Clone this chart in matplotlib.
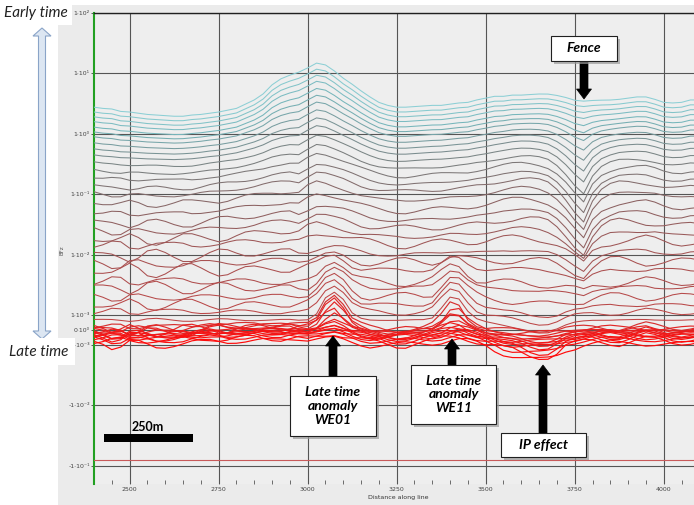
import numpy as np
import matplotlib
matplotlib.use("Agg")
import matplotlib.pyplot as plt
import matplotlib.transforms as mtransforms
from matplotlib.colors import LinearSegmentedColormap
from matplotlib.patches import Rectangle, Polygon
from matplotlib.ticker import MultipleLocator, NullLocator

W, H = 694, 505  # output size in pixels

# survey stations along the line (m), every 25 m
stations = np.arange(2400, 4101, 25)

# profile shapes, in decades (log10 units), one value per station
early_shape = [0.00, -0.02, -0.03, -0.07, -0.08, -0.10, -0.12, -0.13, -0.14, -0.15,
               -0.15, -0.13, -0.12, -0.10, -0.08, -0.05, -0.02, 0.05, 0.12, 0.22,
               0.37, 0.47, 0.53, 0.58, 0.65, 0.73, 0.70, 0.60, 0.48, 0.38,
               0.27, 0.17, 0.08, 0.03, 0.00, 0.00, 0.01, 0.02, 0.03, 0.03,
               0.05, 0.07, 0.08, 0.12, 0.15, 0.18, 0.18, 0.20, 0.20, 0.21,
               0.22, 0.22, 0.20, 0.17, 0.13, 0.12, 0.12, 0.12, 0.12, 0.13,
               0.15, 0.17, 0.17, 0.13, 0.08, 0.07, 0.08, 0.12, 0.12]
mid_shape = [0.00, -0.02, -0.03, -0.03, -0.03, -0.03, -0.03, -0.03, -0.03, -0.03,
             -0.02, -0.02, 0.00, 0.02, 0.03, 0.05, 0.07, 0.09, 0.11, 0.13,
             0.15, 0.16, 0.17, 0.15, 0.25, 0.32, 0.30, 0.26, 0.22, 0.17,
             0.12, 0.08, 0.05, 0.03, 0.02, 0.02, 0.03, 0.04, 0.05, 0.06,
             0.07, 0.08, 0.09, 0.11, 0.13, 0.16, 0.20, 0.23, 0.25, 0.26,
             0.26, 0.25, 0.22, 0.18, 0.15, 0.14, 0.14, 0.15, 0.16, 0.17,
             0.18, 0.18, 0.17, 0.14, 0.10, 0.08, 0.08, 0.10, 0.10]
wiggle_a = [0.00, 0.03, 0.06, 0.02, -0.08, -0.05, 0.04, 0.08, 0.06, 0.02,
            -0.03, -0.06, -0.04, 0.00, 0.04, 0.05, 0.03, 0.00, -0.02, -0.03,
            -0.02, 0.00, 0.02, 0.00, -0.02, -0.03, -0.02, 0.00, 0.02, 0.04,
            0.05, 0.03, 0.00, -0.03, -0.05, -0.04, -0.01, 0.02, 0.04, 0.03,
            0.00, -0.02, -0.03, -0.02, 0.00, 0.02, 0.03, 0.02, 0.00, -0.02,
            -0.03, -0.02, 0.00, 0.02, 0.03, 0.02, 0.00, -0.03, -0.05, -0.03,
            0.00, 0.04, 0.06, 0.03, 0.00, -0.03, -0.04, -0.02, 0.00]
wiggle_b = [0.05, 0.02, -0.03, -0.06, -0.04, 0.01, 0.05, 0.04, 0.00, -0.05,
            -0.08, -0.05, 0.00, 0.04, 0.06, 0.03, -0.02, -0.05, -0.04, 0.00,
            0.03, 0.05, 0.03, -0.02, -0.05, -0.03, 0.00, 0.02, 0.03, 0.01,
            -0.02, -0.04, -0.03, 0.00, 0.03, 0.05, 0.04, 0.01, -0.02, -0.04,
            -0.03, 0.00, 0.03, 0.04, 0.02, -0.01, -0.03, -0.04, -0.02, 0.01,
            0.03, 0.04, 0.02, -0.01, -0.03, -0.03, -0.01, 0.02, 0.04, 0.05,
            0.03, 0.00, -0.03, -0.04, -0.02, 0.01, 0.03, 0.04, 0.03]
# late time bundle centre, in units of 1e-3
bundle_centre = [-0.10, -0.15, -0.20, -0.15, -0.10, -0.10, -0.15, -0.20, -0.20, -0.15,
                 -0.10, -0.05, 0.00, 0.05, 0.00, -0.05, 0.00, 0.05, 0.10, 0.10,
                 0.05, 0.05, 0.10, 0.10, 0.05, 0.10, 0.15, 0.20, 0.10, 0.00,
                 -0.10, -0.20, -0.25, -0.30, -0.30, -0.25, -0.20, -0.15, -0.10, -0.05,
                 0.00, 0.05, 0.00, -0.10, -0.20, -0.25, -0.30, -0.30, -0.30, -0.30,
                 -0.30, -0.30, -0.25, -0.20, -0.20, -0.15, -0.10, -0.10, -0.15, -0.20,
                 -0.15, -0.10, -0.05, -0.10, -0.15, -0.20, -0.20, -0.15, -0.10]

# local features (station: relative strength), zero elsewhere
fence_dip = {3625: 0.03, 3650: 0.08, 3675: 0.15, 3700: 0.28, 3725: 0.48, 3750: 0.75,
             3775: 1.0, 3800: 0.45, 3825: 0.18, 3850: 0.06}
we01_peak = {3000: 0.04, 3025: 0.25, 3050: 0.75, 3075: 1.0, 3100: 0.65,
             3125: 0.22, 3150: 0.05}
we11_peak = {3350: 0.08, 3375: 0.45, 3400: 0.95, 3425: 0.85, 3450: 0.35, 3475: 0.08}
ip_low = {3475: 0.05, 3500: 0.15, 3525: 0.3, 3550: 0.45, 3575: 0.6, 3600: 0.75,
          3625: 0.9, 3650: 1.0, 3675: 0.95, 3700: 0.75, 3725: 0.4, 3750: 0.15, 3775: 0.03}

# decaying channels (early -> late), log10 level at the start of the line
log_level = [0.44, 0.36, 0.28, 0.20, 0.11, 0.03, -0.05, -0.15, -0.25, -0.35,
             -0.47, -0.60, -0.72, -0.86, -0.98, -1.13, -1.30, -1.46, -1.59, -1.73,
             -1.84, -2.01, -2.14, -2.26, -2.45, -2.55, -2.70, -2.83, -2.95, -3.18]
w_early = [1.0, 0.95, 0.9, 0.85, 0.78, 0.7, 0.62, 0.55, 0.47, 0.4,
           0.32, 0.25, 0.18, 0.12, 0.06] + [0.0] * 15
w_mid = [0.0, 0.05, 0.1, 0.15, 0.22, 0.3, 0.38, 0.45, 0.53, 0.6,
         0.68, 0.75, 0.82, 0.88, 0.94, 1.0, 0.95, 0.9, 0.8, 0.7,
         0.5, 0.35, 0.2, 0.1, 0.0, 0.0, 0.0, 0.0, 0.0, 0.0]
fence_depth = [0.02, 0.03, 0.05, 0.07, 0.10, 0.14, 0.19, 0.25, 0.32, 0.40,
               0.46, 0.52, 0.56, 0.58, 0.60, 0.60, 0.58, 0.55, 0.50, 0.44,
               0.38, 0.31, 0.24, 0.20, 0.16, 0.12, 0.08, 0.06, 0.04, 0.02]
wig_a_w = [0.0] * 10 + [0.1, -0.2, 0.3, 0.3, -0.4, -0.5, 0.5, 0.6, -0.7, -0.8,
                        0.9, 0.9, -1.0, -1.0, 0.9, 0.9, -0.8, -0.8, 0.7, 0.6]
wig_b_w = [0.0] * 10 + [0.1, 0.2, -0.3, 0.3, 0.4, -0.5, -0.5, 0.6, 0.7, -0.8,
                        -0.8, 0.9, 0.9, -1.0, -0.9, 0.9, 0.8, -0.8, -0.6, 0.5]
we01_amp = [0.0] * 19 + [0.5, 1.0, 1.5, 2.5, 4.2, 4.0, 3.2, 2.8, 2.4, 1.9, 1.7]
we11_amp = [0.0] * 19 + [0.4, 0.8, 1.2, 2.0, 3.6, 3.4, 2.8, 2.4, 2.0, 1.6, 1.4]
ip_amp = [0.0] * 24 + [0.2, 0.3, 0.5, 0.6, 0.7, 0.8]

# latest channels forming the red bundle around zero (units of 1e-3)
bundle_offset = [0.35, 0.25, 0.15, 0.10, 0.00, -0.05, -0.10, -0.15, -0.20, -0.25,
                 -0.30, -0.40, -0.50, -0.60, -0.75]
bundle_wig_a = [3, -2, 4, -3, 2, 4, -3, 2, -2, 3, -4, 3, -2, 2, -3]
bundle_wig_b = [-2, 3, 2, -3, 4, -2, 3, -3, 3, -2, 2, -3, 3, -4, 2]
bundle_we01 = [1.6, 1.4, 1.25, 1.05, 0.8, 0.6, 0.4, 0.3, 0.25, 0.2, 0.15, 0.15, 0.1, 0.1, 0.1]
bundle_we11 = [1.3, 1.1, 1.0, 0.85, 0.7, 0.5, 0.35, 0.25, 0.2, 0.15, 0.12, 0.1, 0.1, 0.08, 0.08]
bundle_ip = [0.1, 0.15, 0.2, 0.25, 0.3, 0.35, 0.4, 0.45, 0.5, 0.5, 0.55, 0.6, 0.6, 0.65, 0.7]

y_ticks = [1e2, 1e1, 1e0, 1e-1, 1e-2, 1e-3, 0, -1e-3, -1e-2, -1e-1]
y_labels = ['1·10²', '1·10¹', '1·10⁰', '1·10⁻¹', '1·10⁻²', '1·10⁻³', '0·10⁰',
            '-1·10⁻³', '-1·10⁻²', '-1·10⁻¹']
x_ticks = [2500, 2750, 3000, 3250, 3500, 3750, 4000]


def sparse(d):
    return np.array([d.get(s, 0.0) for s in stations])


early = np.array(early_shape)
mid = np.array(mid_shape)
wa = np.array(wiggle_a)
wb = np.array(wiggle_b)
fence = sparse(fence_dip)
g1 = sparse(we01_peak)
g2 = sparse(we11_peak)
ip = sparse(ip_low)
centre = np.array(bundle_centre)

n_up = len(log_level)
n_all = n_up + len(bundle_offset)
cmap = LinearSegmentedColormap.from_list('chan', [
    (0.0, '#8ccfd5'), (0.1, '#74b3b8'), (0.18, '#7a9496'), (0.26, '#7a7a7a'),
    (0.36, '#8a6262'), (0.5, '#a85050'), (0.66, '#c04444'), (0.69, '#e02828'),
    (1.0, '#ff0a0a')])

fig = plt.figure(figsize=(W / 100, H / 100), dpi=100)
fig.patch.set_facecolor('white')


def fx(x):
    return x / W


def fy(y):
    return 1 - y / H


# grey panel behind the plot
fig.add_artist(Rectangle((fx(58), 0), 1 - fx(58), fy(5), transform=fig.transFigure,
                         fc='#ebebeb', ec='none', zorder=0))

ax = fig.add_axes([fx(94), fy(484), 1 - fx(94), (484 - 13) / H])
ax.set_facecolor('#eeeeee')
ax.set_yscale('symlog', linthresh=1e-3, linscale=0.225)
ax.set_xlim(2400, 4085)
ax.set_ylim(-0.2, 100)

for i in range(n_up):
    logv = (log_level[i] + w_early[i] * early + w_mid[i] * mid - fence_depth[i] * fence
            + wig_a_w[i] * wa + wig_b_w[i] * wb)
    v = 10 ** logv + 1e-3 * (we01_amp[i] * g1 + we11_amp[i] * g2 - ip_amp[i] * ip)
    ax.plot(stations, v, color=cmap(i / (n_all - 1)), lw=0.75, zorder=3)

for j in range(len(bundle_offset)):
    v = 1e-3 * (centre + bundle_offset[j] + bundle_wig_a[j] * wa + bundle_wig_b[j] * wb
                + bundle_we01[j] * g1 + bundle_we11[j] * g2 - bundle_ip[j] * ip)
    ax.plot(stations, v, color=cmap((n_up + j) / (n_all - 1)), lw=0.85, zorder=4)

ax.axhline(-0.08, color='#c85a5a', lw=0.8, zorder=3)

ax.set_yticks(y_ticks)
ax.set_yticklabels(y_labels)
ax.yaxis.set_minor_locator(NullLocator())
ax.set_xticks(x_ticks)
ax.xaxis.set_minor_locator(MultipleLocator(50))
ax.tick_params(axis='y', labelsize=4.5, labelcolor='#444444', length=2, width=0.6,
               pad=1, color='#444444')
ax.tick_params(axis='x', which='both', direction='in', labelsize=4.5,
               labelcolor='#444444', length=3, width=0.6, pad=2, color='#555555')
ax.grid(True, which='major', color='#555555', lw=0.8, zorder=1)
ax.set_axisbelow(True)
for side in ['right', 'bottom']:
    ax.spines[side].set_visible(False)
ax.spines['top'].set_color('#202020')
ax.spines['top'].set_linewidth(1.0)
ax.spines['left'].set_color('#22a022')
ax.spines['left'].set_linewidth(1.5)

fig.text(fx(398), fy(498), 'Distance along line', fontsize=4.5, color='#333333',
         ha='center', va='center')
fig.text(fx(62), fy(250), 'BFz', fontsize=4, color='#555555', rotation=90,
         ha='center', va='center')

# scale bar, 250 m long in data units
blend = mtransforms.blended_transform_factory(ax.transData, fig.transFigure)
ax.add_patch(Rectangle((2428, fy(442)), 250, 8 / H, transform=blend, fc='black',
                       ec='none', zorder=6, clip_on=False))
fig.text(fx(148), fy(427), '250m', fontsize=9, fontweight='bold',
         family=['Lato', 'DejaVu Sans'], ha='center', va='center')

label_font = dict(family=['Lato', 'DejaVu Sans'], fontweight='bold', style='italic')


def arrow_poly(x, y_tail, y_tip, shaft=8, head=15, head_len=10):
    s = 1 if y_tip > y_tail else -1
    base = y_tip - s * head_len
    pts = [(x - shaft / 2, y_tail), (x - shaft / 2, base), (x - head / 2, base),
           (x, y_tip), (x + head / 2, base), (x + shaft / 2, base), (x + shaft / 2, y_tail)]
    return [(fx(px), fy(py)) for px, py in pts]


def callout(x0, y0, x1, y1, text, ax_x, y_tail, y_tip):
    fig.add_artist(Polygon(arrow_poly(ax_x, y_tail, y_tip), closed=True,
                           transform=fig.transFigure, fc='black', ec='black',
                           lw=0.5, zorder=8))
    fig.add_artist(Rectangle((fx(x0 + 3), fy(y1 + 3)), (x1 - x0) / W, (y1 - y0) / H,
                             transform=fig.transFigure, fc='#9a9a9a', ec='none',
                             alpha=0.7, zorder=9))
    fig.add_artist(Rectangle((fx(x0), fy(y1)), (x1 - x0) / W, (y1 - y0) / H,
                             transform=fig.transFigure, fc='white', ec='#202020',
                             lw=0.8, zorder=10))
    fig.text(fx((x0 + x1) / 2), fy((y0 + y1) / 2), text, ha='center', va='center',
             fontsize=10, linespacing=1.15, zorder=11, **label_font)


callout(551, 36, 617, 61, 'Fence', 584, 61, 99)
callout(290, 376, 376, 436, 'Late time\nanomaly\nWE01', 333, 376, 336)
callout(411, 365, 496, 424, 'Late time\nanomaly\nWE11', 452, 365, 339)
callout(501, 433, 586, 457, 'IP effect', 543, 433, 365)

# double headed early/late time arrow
ax_x, sh, hw = 42, 7, 18
top_tip, top_base, bot_tip, bot_base = 28, 36, 339, 331
pts = [(ax_x - sh / 2, top_base), (ax_x - hw / 2, top_base), (ax_x, top_tip),
       (ax_x + hw / 2, top_base), (ax_x + sh / 2, top_base), (ax_x + sh / 2, bot_base),
       (ax_x + hw / 2, bot_base), (ax_x, bot_tip), (ax_x - hw / 2, bot_base),
       (ax_x - sh / 2, bot_base)]
fig.add_artist(Polygon([(fx(a), fy(b)) for a, b in pts], closed=True,
                       transform=fig.transFigure, fc='#dce6f2', ec='#8aa4c8',
                       lw=0.8, zorder=8))

for (x0, y0, x1, y1), txt, ty in [((0, 0, 72, 25), 'Early time', 13),
                                  ((0, 338, 75, 365), 'Late time', 352)]:
    fig.add_artist(Rectangle((fx(x0), fy(y1)), (x1 - x0) / W, (y1 - y0) / H,
                             transform=fig.transFigure, fc='white', ec='none', zorder=9))
    fig.text(fx(36 if ty < 100 else 39), fy(ty), txt, fontsize=11, style='italic',
             family=['Lato', 'DejaVu Sans'], color='#222222', ha='center',
             va='center', zorder=10)

fig.savefig('out.png', dpi=100)
